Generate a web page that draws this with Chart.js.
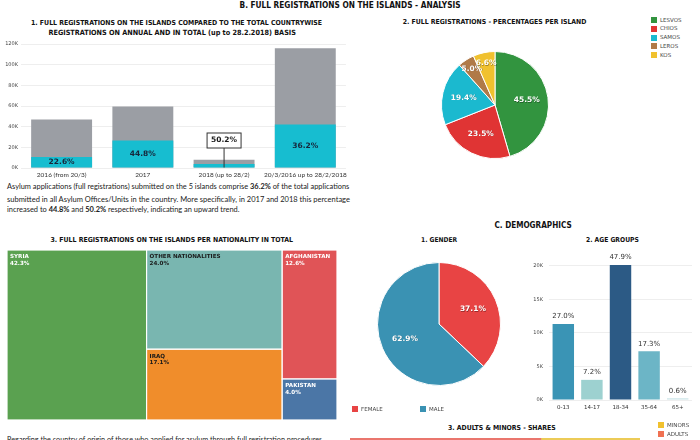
<!DOCTYPE html>
<html>
<head>
<meta charset="utf-8">
<script src="https://cdn.jsdelivr.net/npm/chart.js@4.4.1/dist/chart.umd.min.js"></script>
<style>
  body { margin: 0; width: 700px; height: 440px; overflow: hidden; background: #fff; position: relative; }
  canvas { position: absolute; }
  .txt { position: absolute; white-space: nowrap; line-height: 1.2; color: #111; }
  .ttl { font-family: 'DejaVu Sans Condensed', 'DejaVu Sans', sans-serif; font-weight: bold; }
  .body { font-family: 'Lato', 'Open Sans', sans-serif; color: #222; }
  .leg { position: absolute; font-family: 'DejaVu Sans', sans-serif; font-size: 5.5px; color: #444; white-space: nowrap; }
  .leg i { position: absolute; width: 6px; height: 6px; left: 0; top: 0; }
  .leg span { position: absolute; left: 9px; top: -0.5px; }
</style>
</head>
<body>

<div class="txt ttl" data-cx="350" data-cy="6" data-w="221">B. FULL REGISTRATIONS ON THE ISLANDS - ANALYSIS</div>
<div class="txt ttl" data-cx="176.5" data-cy="23" data-w="291">1. FULL REGISTRATIONS ON THE ISLANDS COMPARED TO THE TOTAL COUNTRYWISE</div>
<div class="txt ttl" data-cx="172" data-cy="33" data-w="248">REGISTRATIONS ON ANNUAL AND IN TOTAL (up to 28.2.2018) BASIS</div>
<div class="txt ttl" data-cx="494.7" data-cy="22" data-w="184">2. FULL REGISTRATIONS - PERCENTAGES PER ISLAND</div>
<div class="txt ttl" data-cx="171.5" data-cy="240" data-w="243">3. FULL REGISTRATIONS ON THE ISLANDS PER NATIONALITY IN TOTAL</div>
<div class="txt ttl" data-cx="533" data-cy="226" data-w="77">C. DEMOGRAPHICS</div>
<div class="txt ttl" data-cx="439" data-cy="240" data-w="36">1. GENDER</div>
<div class="txt ttl" data-cx="612.5" data-cy="240" data-w="53">2. AGE GROUPS</div>
<div class="txt ttl" data-cx="502" data-cy="428" data-w="108">3. ADULTS &amp; MINORS - SHARES</div>

<div class="txt body" data-x="7" data-cy="187" data-w="343">Asylum applications (full registrations) submitted on the 5 islands comprise <b>36.2%</b> of the total applications</div>
<div class="txt body" data-x="7" data-cy="199.5" data-w="343">submitted in all Asylum Offices/Units in the country. More specifically, in 2017 and 2018 this percentage</div>
<div class="txt body" data-x="7" data-cy="210.5" data-w="233">increased to <b>44.8%</b> and <b>50.2%</b> respectively, indicating an upward trend.</div>
<div class="txt body" data-x="7" data-cy="440" data-w="317">Regarding the country of origin of those who applied for asylum through full registration procedures,</div>

<canvas id="regChart" width="350" height="145" style="left:0;top:38px"></canvas>
<canvas id="islandPie" width="120" height="120" style="left:435px;top:45px"></canvas>
<canvas id="nationTree" width="330" height="170" style="left:7px;top:250px"></canvas>
<canvas id="genderPie" width="128" height="128" style="left:375px;top:260px"></canvas>
<canvas id="ageChart" width="180" height="173" style="left:520px;top:245px"></canvas>
<canvas id="shareChart" width="290" height="12" style="left:350px;top:438px"></canvas>

<div id="islandLegend"></div>
<div id="genderLegend"></div>
<div id="shareLegend"></div>

<script>
// --- data ---
const years = ['2016 (from 20/3)', '2017', '2018 (up to 28/2)', '20/3/2016 up to 28/2/2018'];
const totalRegs = [47000, 59400, 7900, 116000];
const islandRegs = [10600, 26600, 3970, 42000];
const islandPct = ['22.6%', '44.8%', '50.2%', '36.2%'];

const islands = ['LESVOS', 'CHIOS', 'SAMOS', 'LEROS', 'KOS'];
const islandShare = [45.5, 23.5, 19.4, 5.0, 6.6];

const nationalities = ['SYRIA', 'OTHER NATIONALITIES', 'IRAQ', 'AFGHANISTAN', 'PAKISTAN'];
const nationalityShare = [42.3, 24.0, 17.1, 12.6, 4.0];
const nationalityColumn = [0, 1, 1, 2, 2];

const genders = ['FEMALE', 'MALE'];
const genderShare = [37.1, 62.9];

const ageGroups = ['0-13', '14-17', '18-34', '35-64', '65+'];
const ageCounts = [11300, 3000, 20100, 7250, 250];
const agePct = ['27.0%', '7.2%', '47.9%', '17.3%', '0.6%'];

const shareGroups = ['ADULTS', 'MINORS'];
const shareValues = [65.8, 34.2];

// --- colours ---
const islandColors = ['#32943f', '#e03434', '#1bb9cf', '#b07a48', '#f0c12f'];
const nationColors = ['#5aa150', '#79b6b0', '#f08d2b', '#e05457', '#4b76a6'];
const nationText = ['#fff', '#1a1a1a', '#1a1a1a', '#fff', '#fff'];
const genderColors = ['#e84444', '#3a92b3'];
const ageColors = ['#3a94b5', '#9dd1d0', '#2c5a85', '#6cb5c6', '#c9e3e6'];
const shareColors = ['#ea766d', '#eccb57'];
const shareLegendColors = ['#f07152', '#f1c12e'];

const TITLE_FONT = 'DejaVu Sans';

// fit html text to the width it has in the picture
document.querySelectorAll('.txt').forEach(el => {
  el.style.fontSize = '10px';
  const s = 10 * (+el.dataset.w) / el.offsetWidth;
  el.style.fontSize = s.toFixed(2) + 'px';
  if (el.dataset.cx) el.style.left = (+el.dataset.cx - el.offsetWidth / 2) + 'px';
  else el.style.left = el.dataset.x + 'px';
  el.style.top = (+el.dataset.cy - el.offsetHeight / 2) + 'px';
});

function makeLegend(id, names, colors, x, y, dx, dy) {
  const box = document.getElementById(id);
  names.forEach((n, i) => {
    const d = document.createElement('div');
    d.className = 'leg';
    d.style.left = (x + dx * i) + 'px';
    d.style.top = (y + dy * i) + 'px';
    d.innerHTML = '<i style="background:' + colors[i] + '"></i><span>' + n + '</span>';
    box.appendChild(d);
  });
}
makeLegend('islandLegend', islands, islandColors, 651, 17, 0, 8.8);
makeLegend('genderLegend', genders, genderColors, 352, 406, 68, 0);
makeLegend('shareLegend', ['MINORS', 'ADULTS'], [shareLegendColors[1], shareLegendColors[0]], 658, 422, 0, 9);

Chart.defaults.animation = false;
Chart.defaults.responsive = false;
Chart.defaults.plugins.legend.display = false;
Chart.defaults.plugins.tooltip.enabled = false;

// 1. islands vs country
const barLabels = {
  id: 'barLabels',
  afterDatasetsDraw(chart) {
    const ctx = chart.ctx;
    const meta = chart.getDatasetMeta(0);
    ctx.save();
    ctx.font = 'bold 7.5px ' + TITLE_FONT;
    ctx.textAlign = 'center';
    ctx.textBaseline = 'middle';
    meta.data.forEach((bar, i) => {
      if (bar.base - bar.y < 8) {
        // callout box for the small bar
        const cy = bar.base - 27;
        ctx.strokeStyle = '#333';
        ctx.lineWidth = 1;
        ctx.beginPath();
        ctx.moveTo(bar.x, cy + 7.5);
        ctx.lineTo(bar.x, bar.base);
        ctx.stroke();
        ctx.fillStyle = '#fff';
        ctx.fillRect(bar.x - 17, cy - 7.5, 34, 15);
        ctx.strokeRect(bar.x - 17, cy - 7.5, 34, 15);
        ctx.fillStyle = '#1a1a1a';
        ctx.fillText(islandPct[i], bar.x, cy);
      } else {
        ctx.fillStyle = '#17263a';
        ctx.fillText(islandPct[i], bar.x, (bar.y + bar.base) / 2);
      }
    });
    ctx.restore();
  }
};

new Chart(document.getElementById('regChart'), {
  type: 'bar',
  data: {
    labels: years,
    datasets: [
      { label: 'Islands', data: islandRegs, backgroundColor: '#17bdd0', order: 1, grouped: false, barPercentage: 0.75, categoryPercentage: 1 },
      { label: 'Total', data: totalRegs, backgroundColor: '#9b9ea4', order: 2, grouped: false, barPercentage: 0.75, categoryPercentage: 1 }
    ]
  },
  options: {
    layout: { padding: { top: 4.3, right: 2.5, left: 0, bottom: 0 } },
    scales: {
      x: {
        grid: { display: false, drawTicks: false },
        border: { display: false },
        ticks: { color: '#333', font: { family: 'Lato', size: 6.5 }, padding: 3, maxRotation: 0, autoSkip: false },
        afterFit: s => { s.height = 15; }
      },
      y: {
        min: 0, max: 120000,
        grid: { color: '#eeeeee', drawTicks: false },
        border: { display: false },
        ticks: { stepSize: 20000, color: '#444', font: { family: TITLE_FONT, size: 5 }, padding: 3,
                 callback: v => (v / 1000) + 'K' },
        afterFit: s => { s.width = 21; }
      }
    }
  },
  plugins: [barLabels]
});

// pie label helper
function pieLabels(texts, small) {
  return {
    id: 'pieLabels',
    afterDatasetsDraw(chart) {
      const ctx = chart.ctx;
      const meta = chart.getDatasetMeta(0);
      ctx.save();
      ctx.font = 'bold 7.5px ' + TITLE_FONT;
      ctx.textAlign = 'center';
      ctx.textBaseline = 'middle';
      meta.data.forEach((arc, i) => {
        const mid = (arc.startAngle + arc.endAngle) / 2;
        const share = chart.data.datasets[0].data[i];
        const f = share < 10 ? small : 0.6;
        const x = arc.x + Math.cos(mid) * arc.outerRadius * f;
        const y = arc.y + Math.sin(mid) * arc.outerRadius * f;
        ctx.fillStyle = 'rgba(0,0,0,0.35)';
        ctx.fillText(texts[i], x + 0.5, y + 0.5);
        ctx.fillStyle = '#fff';
        ctx.fillText(texts[i], x, y);
      });
      ctx.restore();
    }
  };
}

// 2. islands pie
new Chart(document.getElementById('islandPie'), {
  type: 'pie',
  data: { labels: islands, datasets: [{ data: islandShare, backgroundColor: islandColors, borderColor: '#fff', borderWidth: 1 }] },
  options: { layout: { padding: 6 } },
  plugins: [pieLabels(islandShare.map(v => v.toFixed(1) + '%'), 0.8)]
});

// 3. treemap per nationality
const treemap = {
  id: 'treemap',
  afterDatasetsDraw(chart) {
    const ctx = chart.ctx;
    const xs = chart.scales.x, ys = chart.scales.y;
    const cols = [];
    nationalities.forEach((n, i) => {
      const c = nationalityColumn[i];
      cols[c] = (cols[c] || 0) + nationalityShare[i];
    });
    const total = cols.reduce((a, b) => a + b, 0);
    let xStart = 0;
    ctx.save();
    cols.forEach((colSum, c) => {
      const xEnd = xStart + colSum / total * 100;
      let yStart = 0;
      nationalities.forEach((n, i) => {
        if (nationalityColumn[i] !== c) return;
        const yEnd = yStart + nationalityShare[i] / colSum * 100;
        const x0 = xs.getPixelForValue(xStart), x1 = xs.getPixelForValue(xEnd);
        const y0 = ys.getPixelForValue(yStart), y1 = ys.getPixelForValue(yEnd);
        ctx.fillStyle = nationColors[i];
        ctx.fillRect(x0, y0, x1 - x0, y1 - y0);
        ctx.strokeStyle = '#fff';
        ctx.lineWidth = 1.2;
        ctx.strokeRect(x0, y0, x1 - x0, y1 - y0);
        ctx.fillStyle = nationText[i];
        ctx.font = 'bold 5.6px ' + TITLE_FONT;
        ctx.textBaseline = 'middle';
        ctx.fillText(n, x0 + 3, y0 + 7);
        ctx.fillText(nationalityShare[i].toFixed(1) + '%', x0 + 3, y0 + 13.5);
        yStart = yEnd;
      });
      xStart = xEnd;
    });
    ctx.restore();
  }
};

new Chart(document.getElementById('nationTree'), {
  type: 'scatter',
  data: { datasets: [{ data: [] }] },
  options: {
    layout: { padding: 0 },
    scales: {
      x: { min: 0, max: 100, display: false },
      y: { min: 0, max: 100, reverse: true, display: false }
    }
  },
  plugins: [treemap]
});

// C1. gender
new Chart(document.getElementById('genderPie'), {
  type: 'pie',
  data: { labels: genders, datasets: [{ data: genderShare, backgroundColor: genderColors, borderColor: '#fff', borderWidth: 1 }] },
  options: { layout: { padding: 2 } },
  plugins: [pieLabels(genderShare.map(v => v.toFixed(1) + '%'), 0.8)]
});

// C2. age groups
const ageLabels = {
  id: 'ageLabels',
  afterDatasetsDraw(chart) {
    const ctx = chart.ctx;
    ctx.save();
    ctx.font = '7px ' + TITLE_FONT;
    ctx.fillStyle = '#333';
    ctx.textAlign = 'center';
    ctx.textBaseline = 'middle';
    chart.getDatasetMeta(0).data.forEach((bar, i) => {
      ctx.fillText(agePct[i], bar.x, bar.y - 7.5);
    });
    ctx.restore();
  }
};

new Chart(document.getElementById('ageChart'), {
  type: 'bar',
  data: { labels: ageGroups, datasets: [{ data: ageCounts, backgroundColor: ageColors, barPercentage: 0.75, categoryPercentage: 1, clip: false }] },
  options: {
    layout: { padding: { top: 20.7, right: 8, left: 0, bottom: 0 } },
    scales: {
      x: {
        grid: { display: false, drawTicks: false },
        border: { display: false },
        ticks: { color: '#333', font: { family: TITLE_FONT, size: 5.5 }, padding: 4, autoSkip: false },
        afterFit: s => { s.height = 18; }
      },
      y: {
        min: 0, max: 20000,
        grid: { color: '#eeeeee', drawTicks: false },
        border: { display: false },
        ticks: { stepSize: 5000, color: '#444', font: { family: TITLE_FONT, size: 5 }, padding: 6,
                 callback: v => (v / 1000) + 'K' },
        afterFit: s => { s.width = 29; }
      }
    }
  },
  plugins: [ageLabels]
});

// C3. adults & minors
new Chart(document.getElementById('shareChart'), {
  type: 'bar',
  data: {
    labels: ['share'],
    datasets: shareGroups.map((g, i) => ({ label: g, data: [shareValues[i]], backgroundColor: shareColors[i], barPercentage: 1, categoryPercentage: 1 }))
  },
  options: {
    indexAxis: 'y',
    layout: { padding: 0 },
    scales: {
      x: { stacked: true, min: 0, max: 100, display: false },
      y: { stacked: true, display: false }
    }
  }
});
</script>
</body>
</html>
